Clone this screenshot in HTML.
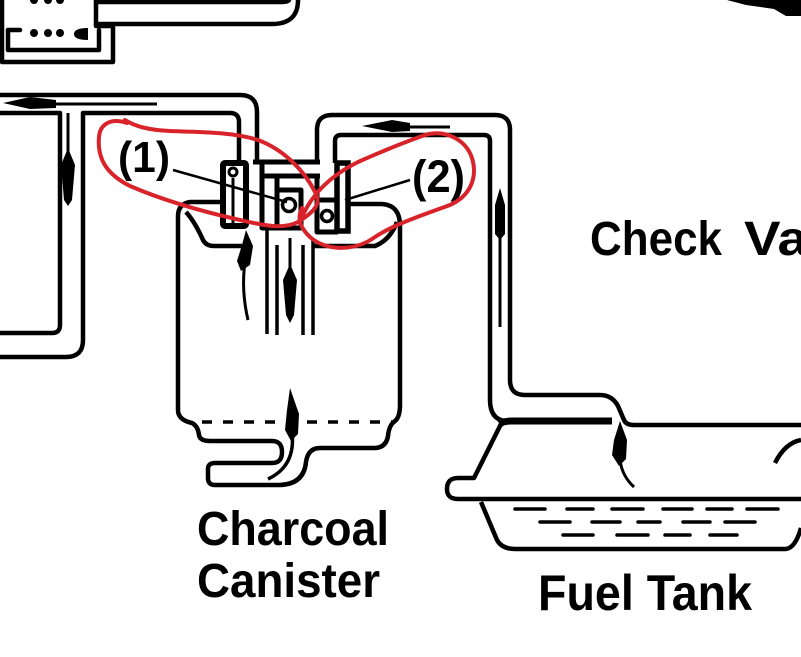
<!DOCTYPE html>
<html>
<head>
<meta charset="utf-8">
<style>
  html,body{margin:0;padding:0;background:#fff;}
  svg{display:block;}
  text{font-family:"Liberation Sans",Arial,sans-serif;font-weight:bold;fill:#000;}
</style>
</head>
<body>
<svg width="801" height="657" viewBox="0 0 801 657" xmlns="http://www.w3.org/2000/svg">
  <rect width="801" height="657" fill="#fff"/>

  <!-- ===== top-left component ===== -->
  <g fill="none" stroke="#000" stroke-width="4.5" stroke-linejoin="round" stroke-linecap="round">
    <path d="M2,0 V62 H113 V26 H96 V0"/>
    <path d="M96,24 H272 Q298,24 298,0"/>
    <path d="M96,2 H282 Q288,2 289,0"/>
    <path d="M8,30 V50 H99 V30"/>
    <path d="M8,30 H20"/>
  </g>
  <g fill="#000">
    <circle cx="34" cy="33" r="4"/>
    <circle cx="48" cy="33" r="4"/>
    <circle cx="60" cy="33" r="4"/>
    <path d="M88,28 Q74,28 74,34 Q74,40 88,40 Z"/>
    <circle cx="34" cy="0" r="4"/>
    <circle cx="48" cy="0" r="4"/>
    <circle cx="60" cy="0" r="4"/>
  </g>

  <!-- top-right black blob -->
  <path d="M727,0 H801 V16 H786 L774,9 L746,5 Z" fill="#000"/>

  <!-- ===== left pipe system ===== -->
  <g fill="none" stroke="#000" stroke-width="4.5" stroke-linejoin="round">
    <path d="M0,95 H240 Q257,95 257,112 V163"/>
    <path d="M83,340 V113 H230 Q239,113 239,122 V163"/>
    <path d="M0,113 H60 V325 Q60,333 52,333 H0"/>
    <path d="M83,340 Q83,357 66,357 H0"/>
  </g>
  <!-- left arrows -->
  <path d="M40,104 H157" stroke="#000" stroke-width="3"/>
  <path d="M3,103 L30,97 L56,100 L56,108 L30,109 Z" fill="#000"/>
  <path d="M68,113 V152" stroke="#000" stroke-width="3"/>
  <path d="M68,148 L75,165 L72,200 L68,206 L64,200 L61,165 Z" fill="#000"/>

  <!-- ===== right pipe system ===== -->
  <g fill="none" stroke="#000" stroke-width="4.5" stroke-linejoin="round">
    <path d="M317,163 V130 Q317,115 332,115 H495 Q510,115 510,130 V380 Q510,395 525,395 H600 Q612,395 618,406 L624,420 Q626,425 634,425 H801"/>
    <path d="M335,163 V141 Q335,135 341,135 H484 Q490,135 490,141 V400 Q490,419 505,421"/>
  </g>
  <path d="M500,424 Q503,421 512,421 H612" stroke="#000" stroke-width="7" fill="none"/>
  <!-- right arrows -->
  <path d="M400,127 H450" stroke="#000" stroke-width="3"/>
  <path d="M362,126 L392,120 L410,123 L410,131 L392,132 Z" fill="#000"/>
  <path d="M500,232 V327" stroke="#000" stroke-width="3"/>
  <path d="M500,188 L505,205 L505,234 L500,240 L495,234 L495,205 Z" fill="#000"/>

  <!-- ===== fuel tank ===== -->
  <g fill="none" stroke="#000" stroke-width="4.5" stroke-linejoin="round">
    <path d="M501,424 L474,478 H458 Q447,478 447,489 Q447,499 458,499 H801"/>
    <path d="M481,502 L497,540 Q502,549 515,549 H785 Q795,549 801,528"/>
    <path d="M775,463 Q785,443 801,440"/>
  </g>
  <g stroke="#000" stroke-width="3.5" stroke-linecap="round">
    <path d="M515,509 H545 M567,509 H593 M612,509 H643 M663,509 H692 M707,509 H732 M747,509 H778"/>
    <path d="M540,522 H570 M592,522 H620 M638,522 H660 M683,522 H710 M725,522 H755"/>
    <path d="M563,535 H593 M617,535 H648 M665,535 H690 M710,535 H737"/>
  </g>
  <path d="M620,460 Q622,476 634,487" stroke="#000" stroke-width="3" fill="none"/>
  <path d="M620,421 L627,440 L626,459 L619,466 L612,455 L614,440 Z" fill="#000"/>

  <!-- ===== charcoal canister ===== -->
  <g fill="none" stroke="#000" stroke-width="4.5" stroke-linejoin="round">
    <path d="M222,202 H190 Q178,204 178,216 V410 Q178,420 192,423 Q198,426 199,435 Q200,441 210,441 H272 Q282,441 282,452 Q282,463 272,463 H215 Q208,463 208,469 V478 Q208,485 215,485 H280 Q304,484 306,462 Q308,448 320,448 H374 Q386,448 388,436 Q389,425 395,421 Q400,417 400,405 V226 Q400,204 380,204 H348"/>
    <path d="M186,212 Q195,222 203,240 Q206,246 214,246 H242"/>
    <path d="M397,222 Q390,240 375,246 H313"/>
  </g>
  <path d="M202,422 H392" stroke="#000" stroke-width="3.5" stroke-dasharray="10 11" fill="none"/>
  <!-- interior tubes -->
  <g stroke="#000" stroke-width="3.5">
    <path d="M267,228 V334 M277,245 V335 M303,245 V335 M313,240 V335"/>
  </g>
  <!-- interior arrows -->
  <path d="M245,262 Q241,290 248,320" stroke="#000" stroke-width="3" fill="none"/>
  <path d="M246,230 L253,246 L250,265 L241,271 L237,261 L242,245 Z" fill="#000"/>
  <path d="M290,238 V272" stroke="#000" stroke-width="3"/>
  <path d="M290,264 L297,280 L294,315 L290,323 L286,315 L283,280 Z" fill="#000"/>
  <path d="M292,432 Q296,466 268,479" stroke="#000" stroke-width="3.5" fill="none"/>
  <path d="M290,388 L299,414 L298,434 L291,441 L285,430 L287,410 Z" fill="#000"/>

  <!-- canister top fitting -->
  <g fill="#fff" stroke="#000" stroke-width="6" stroke-linejoin="round">
    <rect x="223" y="163" width="23" height="63" rx="2"/>
  </g>
  <path d="M233,178 V224" stroke="#000" stroke-width="3" fill="none"/>
  <circle cx="233" cy="172" r="4" fill="#fff" stroke="#000" stroke-width="3"/>
  <g fill="none" stroke="#000" stroke-width="5" stroke-linejoin="round">
    <path d="M253,162 H320"/>
    <path d="M262,162 V228 H278"/>
    <path d="M263,176 H320"/>
    <path d="M277,176 V228 H301 V190 H277"/>
    <path d="M317,176 V232 H338"/>
    <path d="M317,200 H338"/>
  </g>
  <rect x="337" y="163" width="11" height="68" fill="#fff" stroke="#000" stroke-width="5.5"/>
  <g stroke="#000" stroke-width="3.5" fill="#fff">
    <circle cx="289" cy="205" r="6.5"/>
    <circle cx="327" cy="216" r="5.5"/>
  </g>

  <!-- leaders -->
  <path d="M173,170 L287,202" stroke="#000" stroke-width="2.5"/>
  <path d="M410,180 L345,200" stroke="#000" stroke-width="2.5"/>

  <!-- ===== labels ===== -->
  <text x="118" y="172" font-size="44" textLength="52" lengthAdjust="spacingAndGlyphs">(1)</text>
  <text x="412" y="192" font-size="45" textLength="53" lengthAdjust="spacingAndGlyphs">(2)</text>
  <text x="590" y="255" font-size="48" textLength="132" lengthAdjust="spacingAndGlyphs">Check</text>
  <text x="744" y="255" font-size="48" textLength="64" lengthAdjust="spacingAndGlyphs">Va</text>
  <text x="197" y="545" font-size="48" textLength="192" lengthAdjust="spacingAndGlyphs">Charcoal</text>
  <text x="197" y="597" font-size="48" textLength="183" lengthAdjust="spacingAndGlyphs">Canister</text>
  <text x="538" y="610" font-size="50" textLength="214" lengthAdjust="spacingAndGlyphs">Fuel Tank</text>

  <!-- ===== red annotations ===== -->
  <g fill="none" stroke="#d8232a" stroke-width="4" stroke-linecap="round" stroke-linejoin="round">
    <path d="M127,123 C112,118 100,123 99,137 C97,160 108,175 130,186 C160,199 200,211 240,220 C262,225 283,230 298,222 C314,212 322,204 315,192 C305,172 285,150 258,140 C232,132 200,132 170,131 C150,130 136,127 125,120"/>
    <path d="M300,222 C310,195 330,176 358,162 C385,150 405,142 425,135 C446,129 466,140 472,158 C478,178 470,196 450,205 C420,216 392,225 372,239 C352,252 322,251 307,234 C300,226 297,218 302,208"/>
  </g>
</svg>
</body>
</html>
